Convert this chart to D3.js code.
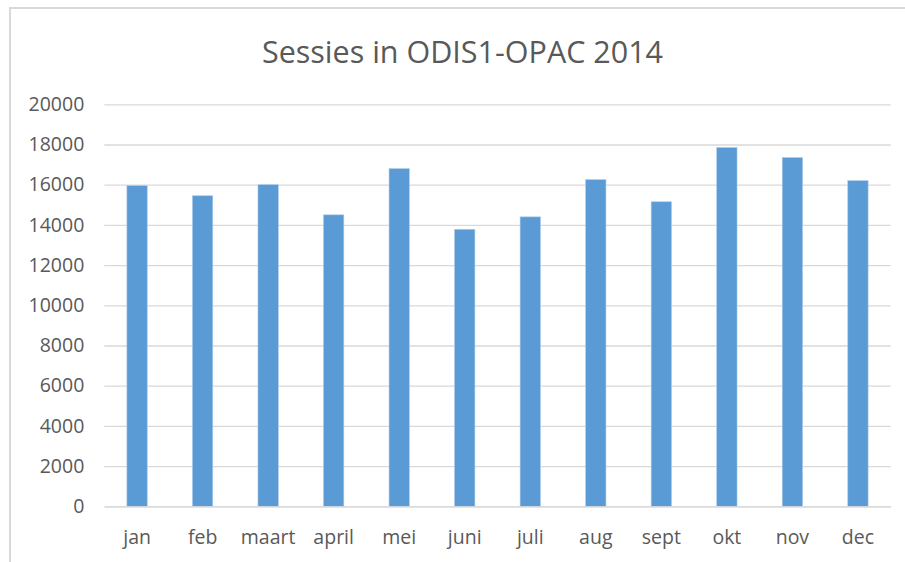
<!DOCTYPE html>
<html><head><meta charset="utf-8">
<script src="https://cdn.jsdelivr.net/npm/d3@7/dist/d3.min.js"></script>
<style>
html,body{margin:0;padding:0;background:#fff;}
svg{display:block;}
</style></head>
<body>
<svg id="chart" width="905" height="562"></svg>
<script>
const title = "Sessies in ODIS1-OPAC 2014";
const months = ["jan","feb","maart","april","mei","juni","juli","aug","sept","okt","nov","dec"];
const sessions = [15950,15450,16000,14500,16800,13780,14400,16250,15150,17850,17350,16200];
const yTicks = [0,2000,4000,6000,8000,10000,12000,14000,16000,18000,20000];

const svg = d3.select("#chart");
const W = 905, H = 562;
const plot = {left:104.3, right:890.7, top:104.3, bottom:506.3};
const font = "Open Sans, Lato, sans-serif";
const textColor = "#595959";

// chart frame
svg.append("rect").attr("x",10).attr("y",8).attr("width",W+20).attr("height",H+20)
  .attr("fill","#fff").attr("stroke","#d9d9d9").attr("stroke-width",2);

const x = d3.scaleBand().domain(months).range([plot.left, plot.right]).paddingInner(0.69).paddingOuter(0.345);
const y = d3.scaleLinear().domain([0,20000]).range([plot.bottom, plot.top]);

// gridlines
const yAxis = d3.axisLeft(y).tickValues(yTicks).tickSize(-(plot.right-plot.left)).tickPadding(20).tickFormat(d3.format("d"));
const gy = svg.append("g").attr("transform",`translate(${plot.left},0)`).call(yAxis);
gy.select(".domain").remove();
gy.selectAll(".tick line").attr("stroke","#d9d9d9").attr("stroke-width",1.3);
gy.selectAll(".tick text").attr("fill",textColor).attr("font-family",font).attr("font-size",19.5);

// bars
svg.append("g").selectAll("rect").data(months).join("rect")
  .attr("x", d=>x(d))
  .attr("width", x.bandwidth())
  .attr("y", (d,i)=>y(sessions[i]))
  .attr("height", (d,i)=>y(0)-y(sessions[i]))
  .attr("fill","#5b9bd5")
  .attr("stroke","#a9c8ea").attr("stroke-width",0.6);

// x axis
const xAxis = d3.axisBottom(x).tickSize(0).tickPadding(24);
const gx = svg.append("g").attr("transform",`translate(0,${plot.bottom})`).call(xAxis);
gx.select(".domain").attr("stroke","#d9d9d9").attr("stroke-width",1.3);
gx.selectAll(".tick text").attr("fill",textColor).attr("font-family",font).attr("font-size",19.5);

// title
svg.append("text").attr("x",462.5).attr("y",63).attr("text-anchor","middle")
  .attr("fill",textColor).attr("font-family",font).attr("font-size",30.5)
  .text(title);
</script>
</body></html>
